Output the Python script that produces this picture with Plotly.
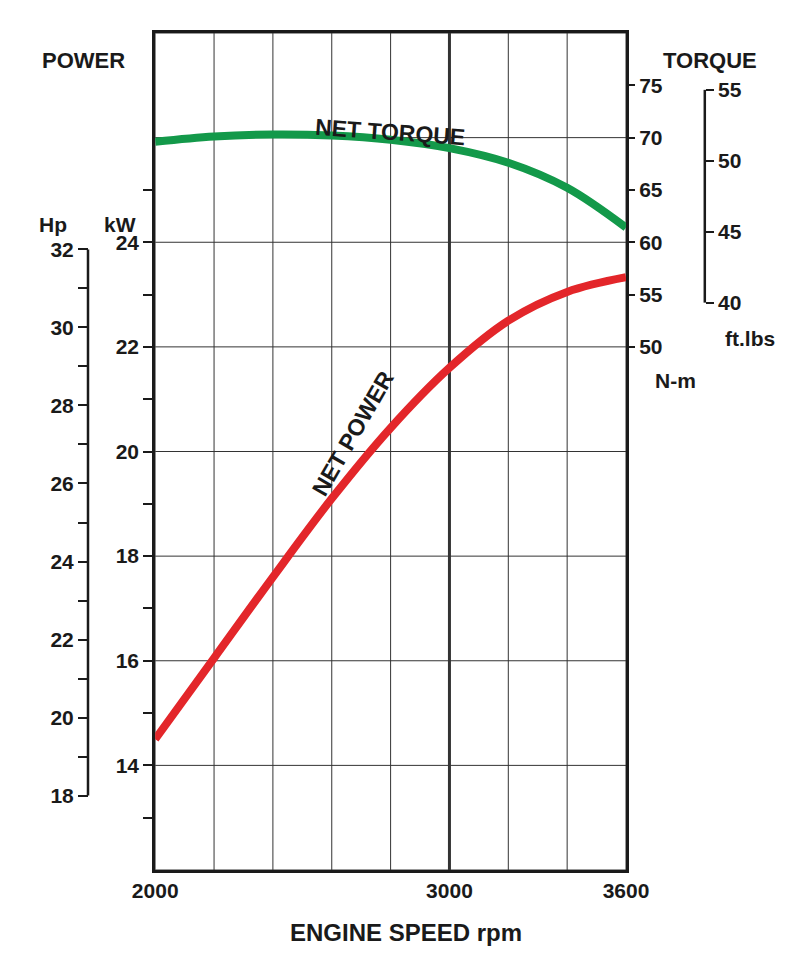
import plotly.graph_objects as go

rpm = [2000, 2200, 2400, 2600, 2800, 3000, 3200, 3400, 3600]
torque_nm = [69.6, 70.1, 70.3, 70.2, 69.8, 69.0, 67.6, 65.2, 61.4]
power_kw = [14.5, 16.05, 17.6, 19.1, 20.45, 21.6, 22.5, 23.05, 23.33]

kw_ticks = list(range(13, 26))
hp_ticks = list(range(18, 33))
nm_ticks = [50, 55, 60, 65, 70, 75]
ftlb_ticks = [40, 45, 50, 55]
x_labels = {2000: "2000", 3000: "3000", 3600: "3600"}

KW_RANGE = [12, 28]
HP = 1.341   # hp per kW
NM_RANGE = [0, 80]   # 1 kW grid unit = 5 N-m, 24 kW <-> 60 N-m
FTLB = 0.7376

bold = "Liberation Sans"
font = dict(family=bold, size=21, color="#1a1a1a")

fig = go.Figure()
# torque on N-m axis
fig.add_trace(go.Scatter(x=rpm, y=torque_nm, yaxis="y2", mode="lines",
                         line=dict(color="#13994a", width=8, shape="spline"),
                         showlegend=False, hoverinfo="skip"))
fig.add_trace(go.Scatter(x=rpm, y=power_kw, mode="lines",
                         line=dict(color="#e3262a", width=8, shape="spline"),
                         showlegend=False, hoverinfo="skip"))

shapes = []
for v in range(12, 29, 2):
    shapes.append(dict(type="line", xref="x domain", x0=0, x1=1, yref="y", y0=v, y1=v,
                       line=dict(color="#333", width=1), layer="below"))
for v in rpm:
    shapes.append(dict(type="line", yref="y domain", y0=0, y1=1, xref="x", x0=v, x1=v,
                       line=dict(color="#333", width=3 if v == 3000 else 1), layer="below"))
shapes.append(dict(type="line", xref="paper", x0=0.1, x1=0.1, yref="y3", y0=18, y1=32,
                   line=dict(color="#1a1a1a", width=2.5)))
shapes.append(dict(type="line", xref="paper", x0=0.871, x1=0.871, yref="y4", y0=40, y1=55,
                   line=dict(color="#1a1a1a", width=2.5)))

tickfont = dict(family=bold, size=21, color="#1a1a1a", weight="bold")
common = dict(showgrid=False, zeroline=False, automargin=False, tickfont=tickfont,
              tickcolor="#1a1a1a", tickwidth=2)
fig.update_layout(
    width=800, height=971, plot_bgcolor="white", paper_bgcolor="white",
    margin=dict(l=0, r=0, t=25, b=109),
    font=font, shapes=shapes,
    xaxis=dict(domain=[0.184, 0.7725], range=[2000, 3600], tickvals=rpm,
               ticktext=[x_labels.get(v, "") for v in rpm], ticks="",
               showline=True, mirror=True, linecolor="#1a1a1a", linewidth=3,
               showgrid=False, zeroline=False, automargin=False, tickfont=tickfont),
    yaxis=dict(range=KW_RANGE, tickvals=kw_ticks,
               ticktext=[str(v) if v % 2 == 0 else "" for v in kw_ticks],
               ticks="outside", ticklen=9, showline=True, mirror=True,
               linecolor="#1a1a1a", linewidth=3, **common),
    yaxis2=dict(range=NM_RANGE, overlaying="y", side="right", anchor="x",
                tickvals=nm_ticks, ticks="outside", ticklen=8, **common),
    yaxis3=dict(range=[KW_RANGE[0] * HP, KW_RANGE[1] * HP], overlaying="y", side="left",
                anchor="free", position=0.1, tickvals=hp_ticks,
                ticktext=[str(v) if v % 2 == 0 else "" for v in hp_ticks],
                ticks="outside", ticklen=10, showline=False, **common),
    yaxis4=dict(range=[NM_RANGE[0] * FTLB, NM_RANGE[1] * FTLB], overlaying="y", side="right",
                anchor="free", position=0.871, tickvals=ftlb_ticks,
                ticks="outside", ticklen=8, showline=False, **common),
)

def label(text, x, y, size=22, angle=0, xanchor="center"):
    fig.add_annotation(text="<b>" + text + "</b>", x=x, y=y, xref="paper", yref="paper",
                       showarrow=False, textangle=angle, xanchor=xanchor,
                       font=dict(family=bold, size=size, color="#1a1a1a"))

def py(p):
    return 1 - (p - 25) / (862 - 25)
def px(p):
    return (p - 147) / (618 - 147) * (0.7725 - 0.184) + 0.184

label("POWER", px(75), py(38), size=22)
label("TORQUE", px(702), py(38), size=22)
label("Hp", px(45), py(203), size=21)
label("kW", px(112), py(203), size=21)
label("ft.lbs", px(742), py(330), size=21)
label("N-m", px(668), py(372), size=21)
label("ENGINE SPEED rpm", px(398), py(940), size=24)
label("NET TORQUE", px(382), py(104), size=23, angle=4)
label("NET POWER", px(345), py(425), size=23, angle=-60)

fig.write_html("out.html")
